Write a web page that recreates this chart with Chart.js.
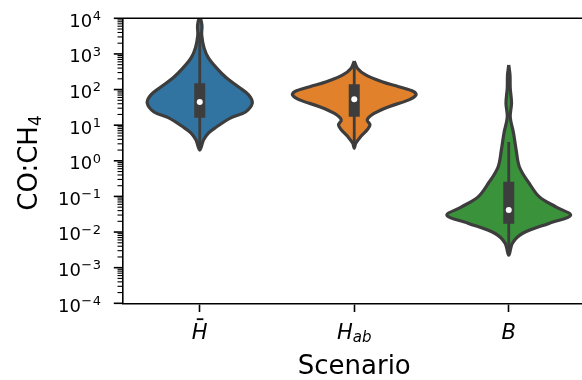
<!DOCTYPE html>
<html>
<head>
<meta charset="utf-8">
<script src="https://cdn.jsdelivr.net/npm/chart.js@4.4.1/dist/chart.umd.min.js"></script>
<style>
  html, body { margin: 0; padding: 0; background: #fff; overflow: hidden; }
  #wrap { width: 590px; height: 380px; }
</style>
</head>
<body>
<div id="wrap"><canvas id="violinChart" width="590" height="380"></canvas></div>
<script>
// scenarios on the x axis
const scenarioLabels = [{ base: 'H', bar: true }, { base: 'H', sub: 'ab' }, { base: 'B' }];
const scenarioColors = ['#3274a1', '#e1812c', '#3a923a'];

// violin profiles: log10(CO:CH4) levels (top -> bottom) and relative half widths
const hbarLevels = [4.1, 3.81, 3.53, 3.17, 2.89, 2.61, 2.33, 2.07, 1.85, 1.62, 1.37, 1.21, 0.95, 0.78, 0.58, 0.30];
const hbarWidths = [0, 0.035, 0.032, 0.07, 0.14, 0.27, 0.43, 0.63, 0.79, 0.85, 0.74, 0.51, 0.27, 0.14, 0.06, 0];

const habLevels = [2.80, 2.60, 2.41, 2.22, 2.08, 1.94, 1.85, 1.71, 1.52, 1.33, 1.15, 1.01, 0.87, 0.68, 0.49, 0.35];
const habWidths = [0, 0.05, 0.185, 0.45, 0.72, 0.965, 1.0, 0.885, 0.56, 0.32, 0.21, 0.255, 0.21, 0.105, 0.024, 0];

const bLevels = [2.69, 2.41, 2.04, 1.62, 1.23, 0.78, 0.30, -0.18, -0.63, -1.02, -1.30, -1.53, -1.75, -2.04, -2.31, -2.65];
const bWidths = [0, 0.02, 0.024, 0.045, 0.024, 0.077, 0.12, 0.174, 0.33, 0.50, 0.77, 1.0, 0.66, 0.22, 0.06, 0];

// inner box stats, log10
const q1 = [1.21, 1.24, -1.77];
const q3 = [2.18, 2.15, -0.59];
const medians = [1.65, 1.73, -1.38];
const whiskerLow = [0.35, 0.40, -2.6];
const whiskerHigh = [3.6, 2.78, 0.53];

const yExponents = [-4, -3, -2, -1, 0, 1, 2, 3, 4];

const violinLevels = [hbarLevels, habLevels, bLevels];
const violinWidths = [hbarWidths, habWidths, bWidths];

const GRAY = '#3d3d3d';
const HALF = 0.4;

function violinOutline(i) {
  const lv = violinLevels[i], w = violinWidths[i];
  const pts = lv.map((l, k) => ({ x: i - w[k] * HALF, y: Math.pow(10, l) }));
  for (let k = lv.length - 2; k >= 0; k--) {
    pts.push({ x: i + w[k] * HALF, y: Math.pow(10, lv[k]) });
  }
  return pts;
}

const datasets = [];
scenarioLabels.forEach((_, i) => {
  datasets.push({
    data: violinOutline(i), showLine: true, fill: 'shape',
    backgroundColor: scenarioColors[i], borderColor: GRAY, borderWidth: 3.2,
    borderJoinStyle: 'round', tension: 0.35, pointRadius: 0, order: 3
  });
  datasets.push({
    data: [{ x: i, y: Math.pow(10, whiskerLow[i]) }, { x: i, y: Math.pow(10, whiskerHigh[i]) }],
    showLine: true, fill: false, borderColor: GRAY, borderWidth: 2.8, pointRadius: 0, order: 2
  });
  datasets.push({
    data: [{ x: i, y: Math.pow(10, q1[i]) }, { x: i, y: Math.pow(10, q3[i]) }],
    showLine: true, fill: false, borderColor: GRAY, borderWidth: 11, borderCapStyle: 'butt',
    pointRadius: 0, order: 1
  });
  datasets.push({
    data: [{ x: i, y: Math.pow(10, medians[i]) }], showLine: false, fill: false,
    pointRadius: 3, pointBackgroundColor: '#fff', pointBorderWidth: 0, order: 0
  });
});

// top/right spines, log ticks and math-style labels
const axisDecor = {
  id: 'axisDecor',
  afterDraw(chart) {
    const { ctx, chartArea: a, scales: { x, y } } = chart;
    ctx.save();
    ctx.strokeStyle = '#000';
    ctx.lineWidth = 1.6;
    ctx.beginPath();
    ctx.moveTo(a.left, a.top);
    ctx.lineTo(a.right, a.top);
    ctx.lineTo(a.right, a.bottom);
    ctx.stroke();

    yExponents.forEach(e => {
      const py = y.getPixelForValue(Math.pow(10, e));
      ctx.lineWidth = 1.6;
      ctx.beginPath();
      ctx.moveTo(a.left - 8.7, py);
      ctx.lineTo(a.left, py);
      ctx.stroke();
      if (e < 4) {
        ctx.lineWidth = 1.1;
        for (let m = 2; m <= 9; m++) {
          const pm = y.getPixelForValue(m * Math.pow(10, e));
          ctx.beginPath();
          ctx.moveTo(a.left - 5, pm);
          ctx.lineTo(a.left, pm);
          ctx.stroke();
        }
      }
    });

    ctx.fillStyle = '#000';
    ctx.textBaseline = 'alphabetic';
    ctx.textAlign = 'left';
    const labelRight = 101;
    yExponents.forEach(e => {
      const py = y.getPixelForValue(Math.pow(10, e));
      ctx.font = '13px "DejaVu Sans"';
      const digits = String(Math.abs(e));
      let ew = ctx.measureText(digits).width;
      ctx.fillText(digits, labelRight - ew, py + 1.7);
      if (e < 0) {
        const mw = ctx.measureText('\u2212').width;
        ew += mw + 0.5;
        ctx.fillText('\u2212', labelRight - ew, py + 1.7);
      }
      ctx.font = '18px "DejaVu Sans"';
      const bw = ctx.measureText('10').width;
      ctx.fillText('10', labelRight - ew - bw - 0.5, py + 8.4);
    });

    const baseY = a.bottom + 36;
    scenarioLabels.forEach((lab, i) => {
      const px = x.getPixelForValue(i);
      ctx.font = 'italic 21px "DejaVu Sans"';
      const wb = ctx.measureText(lab.base).width;
      let ws = 0;
      if (lab.sub) {
        ctx.font = 'italic 15px "DejaVu Sans"';
        ws = ctx.measureText(lab.sub).width;
      }
      const left = px - (wb + ws) / 2;
      ctx.font = 'italic 21px "DejaVu Sans"';
      ctx.fillText(lab.base, left, baseY);
      if (lab.sub) {
        ctx.font = 'italic 15px "DejaVu Sans"';
        ctx.fillText(lab.sub, left + wb, baseY + 3);
      }
      if (lab.bar) {
        ctx.fillRect(px - 3, baseY - 21, 6.6, 1.8);
      }
    });

    // y title CO:CH4 with lowered subscript
    ctx.save();
    ctx.translate(36.5, 163);
    ctx.rotate(-Math.PI / 2);
    ctx.font = '26px "DejaVu Sans"';
    const tw = ctx.measureText('CO:CH').width;
    ctx.font = '17px "DejaVu Sans"';
    const sw = ctx.measureText('4').width;
    const start = -(tw + sw) / 2;
    ctx.font = '26px "DejaVu Sans"';
    ctx.fillText('CO:CH', start, 0);
    ctx.font = '17px "DejaVu Sans"';
    ctx.fillText('4', start + tw, 4);
    ctx.restore();

    ctx.restore();
  }
};

new Chart(document.getElementById('violinChart'), {
  type: 'line',
  data: { datasets },
  options: {
    responsive: false,
    animation: false,
    events: [],
    layout: { padding: { top: 18.3, right: 1, left: 0, bottom: 0 } },
    plugins: { legend: { display: false }, tooltip: { enabled: false } },
    scales: {
      x: {
        type: 'linear', min: -0.5, max: 2.5,
        afterBuildTicks: axis => { axis.ticks = scenarioLabels.map((_, i) => ({ value: i })); },
        afterFit: axis => { axis.height = 76.7; },
        ticks: { display: false },
        grid: { display: true, drawOnChartArea: false, drawTicks: true, tickLength: 8.7, tickWidth: 1.6, tickColor: '#000' },
        border: { display: true, color: '#000', width: 1.6 },
        title: { display: true, text: 'Scenario', color: '#000', font: { family: 'DejaVu Sans', size: 26, lineHeight: 0.95 }, padding: 0 }
      },
      y: {
        type: 'logarithmic', min: 1e-4, max: 1e4,
        afterFit: axis => { axis.width = 122.5; },
        ticks: { display: false },
        grid: { display: false },
        border: { display: true, color: '#000', width: 1.6 }
      }
    }
  },
  plugins: [axisDecor]
});
</script>
</body>
</html>
